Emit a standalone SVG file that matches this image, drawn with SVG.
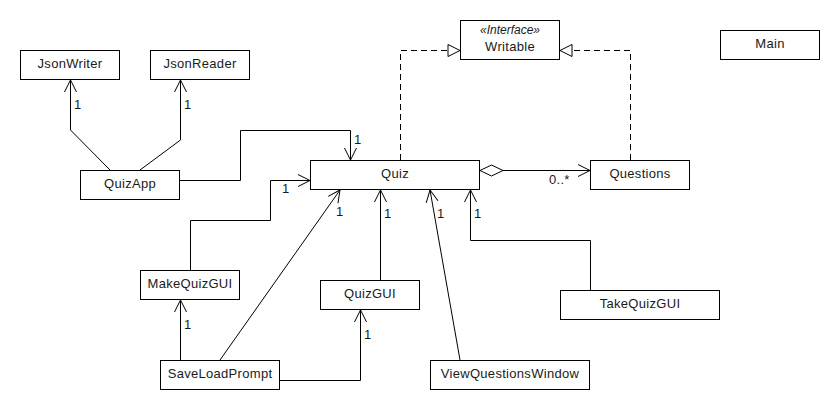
<svg xmlns="http://www.w3.org/2000/svg" width="840" height="420" viewBox="0 0 840 420">
<style>
rect.box{fill:#fff;stroke:#000;stroke-width:1}
text{font-family:"Liberation Sans",Arial,sans-serif;font-size:13px;fill:#1a1a1a;letter-spacing:0.3px}
text.n{text-anchor:middle}
.c{fill:none;stroke:#000;stroke-width:1}
.d{stroke-dasharray:6,4}
</style>
<defs>
<marker id="open" markerUnits="userSpaceOnUse" markerWidth="16" markerHeight="16" refX="0" refY="0" viewBox="-14 -8 16 16" orient="auto" overflow="visible">
<path d="M-12,-6 L0,0 L-12,6" fill="none" stroke="#000" stroke-width="1"/>
</marker>
<marker id="tri" markerUnits="userSpaceOnUse" markerWidth="16" markerHeight="16" refX="0" refY="0" viewBox="-14 -8 16 16" orient="auto" overflow="visible">
<path d="M-12,-6 L0,0 L-12,6 Z" fill="#fff" stroke="#000" stroke-width="1"/>
</marker>
<marker id="dia" markerUnits="userSpaceOnUse" markerWidth="26" markerHeight="14" refX="0" refY="0" viewBox="-1 -7 26 14" orient="auto-start-reverse" overflow="visible">
<path d="M0,0 L11,-5 L22,0 L11,5 Z" fill="#fff" stroke="#000" stroke-width="1"/>
</marker>
</defs>
<rect width="840" height="420" fill="#fff"/>
<g id="connectors">
<path class="c" d="M110,170 L70.5,130 L70.5,80" marker-end="url(#open)"/>
<path class="c" d="M140,170 L180.5,140 L180.5,80" marker-end="url(#open)"/>
<path class="c" d="M179,180.5 L240.5,180.5 L240.5,130.5 L350.5,130.5 L350.5,160" marker-end="url(#open)"/>
<path class="c d" d="M400.5,160 L400.5,50.5 L460,50.5" marker-end="url(#tri)"/>
<path class="c d" d="M630.5,160 L630.5,50.5 L560,50.5" marker-end="url(#tri)"/>
<path class="c" d="M503,170.5 L590,170.5" marker-end="url(#open)"/>
<path d="M480,170.5 L491.5,165 L503,170.5 L491.5,176 Z" fill="#fff" stroke="#000" stroke-width="1"/>
<path class="c" d="M190.5,270 L190.5,220.5 L270.5,220.5 L270.5,180.5 L310,180.5" marker-end="url(#open)"/>
<path class="c" d="M220,360 L340,190" marker-end="url(#open)"/>
<path class="c" d="M380.5,280 L380.5,190" marker-end="url(#open)"/>
<path class="c" d="M180.5,360 L180.5,300" marker-end="url(#open)"/>
<path class="c" d="M279,380.5 L360.5,380.5 L360.5,310" marker-end="url(#open)"/>
<path class="c" d="M460,360 L430,190" marker-end="url(#open)"/>
<path class="c" d="M590.5,290 L590.5,240.5 L470.5,240.5 L470.5,190" marker-end="url(#open)"/>
<text x="74" y="109">1</text>
<text x="184" y="109">1</text>
<text x="354" y="144">1</text>
<text x="282" y="193">1</text>
<text x="336" y="216">1</text>
<text x="384" y="218">1</text>
<text x="184" y="329">1</text>
<text x="364" y="339">1</text>
<text x="437" y="218">1</text>
<text x="474" y="218">1</text>
<text x="549" y="184">0..*</text>
</g>
<g id="JsonWriter"><rect class="box" x="20.5" y="50.5" width="99" height="29"/><text class="n" x="70" y="68">JsonWriter</text></g>
<g id="JsonReader"><rect class="box" x="150.5" y="50.5" width="99" height="29"/><text class="n" x="200" y="68">JsonReader</text></g>
<g id="QuizApp"><rect class="box" x="80.5" y="170.5" width="99" height="29"/><text class="n" x="130" y="188">QuizApp</text></g>
<g id="Quiz"><rect class="box" x="310.5" y="160.5" width="169" height="29"/><text class="n" x="395" y="178">Quiz</text></g>
<g id="Writable"><rect class="box" x="460.5" y="20.5" width="99" height="39"/><text class="n" x="510" y="34" style="font-style:italic;font-size:12px;letter-spacing:0">«Interface»</text><text class="n" x="510" y="51">Writable</text></g>
<g id="Main"><rect class="box" x="720.5" y="30.5" width="99" height="29"/><text class="n" x="770" y="48">Main</text></g>
<g id="Questions"><rect class="box" x="590.5" y="160.5" width="99" height="29"/><text class="n" x="640" y="178">Questions</text></g>
<g id="MakeQuizGUI"><rect class="box" x="140.5" y="270.5" width="99" height="29"/><text class="n" x="190" y="288">MakeQuizGUI</text></g>
<g id="QuizGUI"><rect class="box" x="320.5" y="280.5" width="99" height="29"/><text class="n" x="370" y="298">QuizGUI</text></g>
<g id="SaveLoadPrompt"><rect class="box" x="160.5" y="360.5" width="119" height="29"/><text class="n" x="220" y="378">SaveLoadPrompt</text></g>
<g id="TakeQuizGUI"><rect class="box" x="560.5" y="290.5" width="159" height="29"/><text class="n" x="640" y="308">TakeQuizGUI</text></g>
<g id="ViewQuestionsWindow"><rect class="box" x="430.5" y="360.5" width="159" height="29"/><text class="n" x="510" y="378">ViewQuestionsWindow</text></g>
</svg>
